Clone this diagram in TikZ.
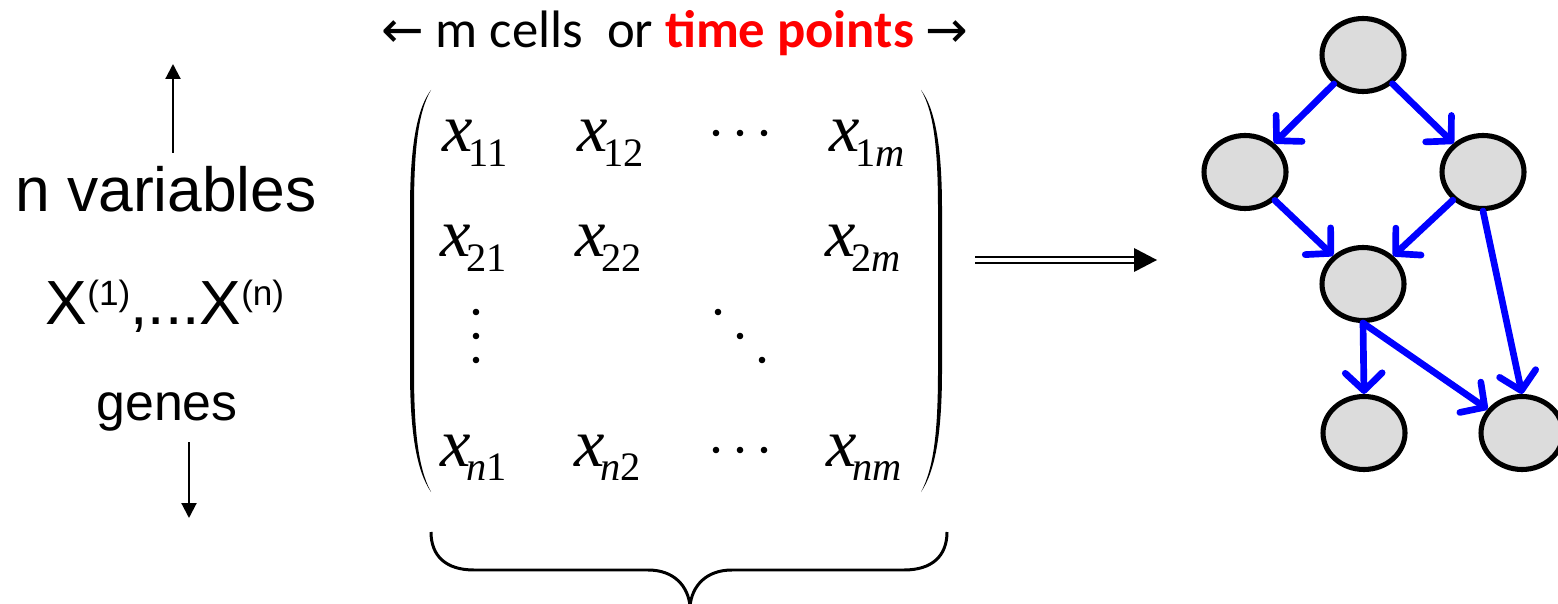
\documentclass[tikz,border=0pt]{standalone}
\usepackage{fontspec}
\setmainfont{Liberation Serif}
\newfontfamily\calibrif{Carlito}
\newfontfamily\arialf{Liberation Sans}
\newfontfamily\timesf{Liberation Serif}
\newfontfamily\symf{DejaVu Sans}
\usetikzlibrary{arrows.meta,shapes.geometric,calc}
\definecolor{nodegray}{RGB}{220,220,220}
\definecolor{netblue}{RGB}{0,0,255}
\definecolor{hired}{RGB}{255,0,0}
\newcommand{\ent}[1]{{\timesf\fontsize{39}{39}\selectfont\itshape x}\kern-2.5pt\raisebox{-8.5pt}{\timesf\fontsize{23}{23}\selectfont #1}}
\newcommand{\supx}[1]{\raisebox{11pt}{\fontsize{20}{20}\selectfont #1}}
\newcommand{\harrow}[1]{{\symf\fontsize{29}{29}\selectfont #1}}
\tikzset{
  gnode/.style={ellipse, draw=black, line width=2.9pt, fill=nodegray, minimum width=1.64cm, minimum height=1.46cm, inner sep=0pt},
  gedge/.style={draw=netblue, line width=3.8pt, line cap=round, -{Straight Barb[length=10pt,width=21pt,round]}},
  entry/.style={anchor=base west, inner sep=0pt},
  thinarrow/.style={line width=1.2pt, -{Triangle[length=8.5pt,width=8.5pt]}},
  mdot/.style={fill=black, draw=none},
}
\begin{document}
\begin{tikzpicture}[x=0.02cm, y=-0.02cm]
\useasboundingbox (0,0) rectangle (1558,604);
\clip (0,0) rectangle (1558,604);

% header
\node[anchor=base, inner sep=0pt, font=\calibrif\fontsize{30}{30}\selectfont] (hdr) at (675,48)
  {\harrow{←} m cells\ \ or \textcolor{hired}{\bfseries time points} \harrow{→}};

% left labels
\node[anchor=base, inner sep=0pt, font=\arialf\fontsize{35.5}{35.5}\selectfont] (nvar) at (166,212) {n variables};
\node[anchor=base, inner sep=0pt, font=\arialf\fontsize{35.5}{35.5}\selectfont] (xvar) at (165,325) {X\supx{(1)},...X\supx{(n)}};
\node[anchor=base, inner sep=0pt, font=\arialf\fontsize{29.5}{29.5}\selectfont] (genes) at (167,420) {genes};
\coordinate (upS) at (173,153);
\coordinate (upE) at (173,64);
\coordinate (dnS) at (189,442);
\coordinate (dnE) at (189,518);
\draw[thinarrow] (upS) -- (upE);
\draw[thinarrow] (dnS) -- (dnE);

% matrix parentheses
\fill (431,90) .. controls (416,110) and (410,150) .. (410,210) -- (410,370)
  .. controls (410,430) and (416,470) .. (431,492)
  .. controls (418,468) and (414,430) .. (414,370) -- (414,210)
  .. controls (414,150) and (418,112) .. (431,90) -- cycle;
\fill (921,90) .. controls (936,110) and (942,150) .. (942,210) -- (942,370)
  .. controls (942,430) and (936,470) .. (921,492)
  .. controls (934,468) and (938,430) .. (938,370) -- (938,210)
  .. controls (938,150) and (934,112) .. (921,90) -- cycle;

% matrix entries
\node[entry] (x11) at (442,152) {\ent{11}};
\node[entry] (x12) at (577,152) {\ent{12}};
\node[entry] (x1m) at (829,152) {\ent{1\textit{m}}};
\node[entry] (x21) at (440,257) {\ent{21}};
\node[entry] (x22) at (575,257) {\ent{22}};
\node[entry] (x2m) at (825,257) {\ent{2\textit{m}}};
\node[entry] (xn1) at (440,466) {\ent{\textit{n}1}};
\node[entry] (xn2) at (574,466) {\ent{\textit{n}2}};
\node[entry] (xnm) at (826,466) {\ent{\textit{nm}}};
\foreach \px in {716,740,764} {
  \fill[mdot] (\px,133) circle (3.3);
  \fill[mdot] (\px,450) circle (3.3);
}
\foreach \py in {312,336,360} {
  \fill[mdot] (476,\py) circle (3.3);
}
\fill[mdot] (718,312) circle (3.3);
\fill[mdot] (740,336) circle (3.3);
\fill[mdot] (762,360) circle (3.3);

% brace
\draw[line width=1.7pt] (431,532) .. controls (431,556) and (446,570) .. (474,570) -- (648,570)
  .. controls (674,570) and (688,586) .. (690,606);
\draw[line width=1.7pt] (947,532) .. controls (947,556) and (932,570) .. (904,570) -- (732,570)
  .. controls (706,570) and (692,586) .. (690,606);

% double arrow
\coordinate (dS) at (975,260);
\coordinate (dE) at (1134,260);
\coordinate (dT) at (1157,260);
\draw[line width=1.15pt, double, double distance=2.3pt] (dS) -- (dE);
\fill ($(dE)+(0,-12)$) -- (dT) -- ($(dE)+(0,12)$) -- cycle;

% graph
\node[gnode] (A) at (1363,55) {};
\node[gnode] (B) at (1245,172) {};
\node[gnode] (C) at (1483,172) {};
\node[gnode] (D) at (1363,284) {};
\node[gnode] (E) at (1364,433) {};
\node[gnode] (F) at (1522,433) {};
\draw[gedge] (A) -- (B);
\draw[gedge] (A) -- (C);
\draw[gedge] (B) -- (D);
\draw[gedge] (C) -- (D);
\draw[gedge] (C.south) -- (F.north);
\draw[gedge] (D.south) -- (E.north);
\draw[gedge] (D.south) -- (F);
\end{tikzpicture}
\end{document}
